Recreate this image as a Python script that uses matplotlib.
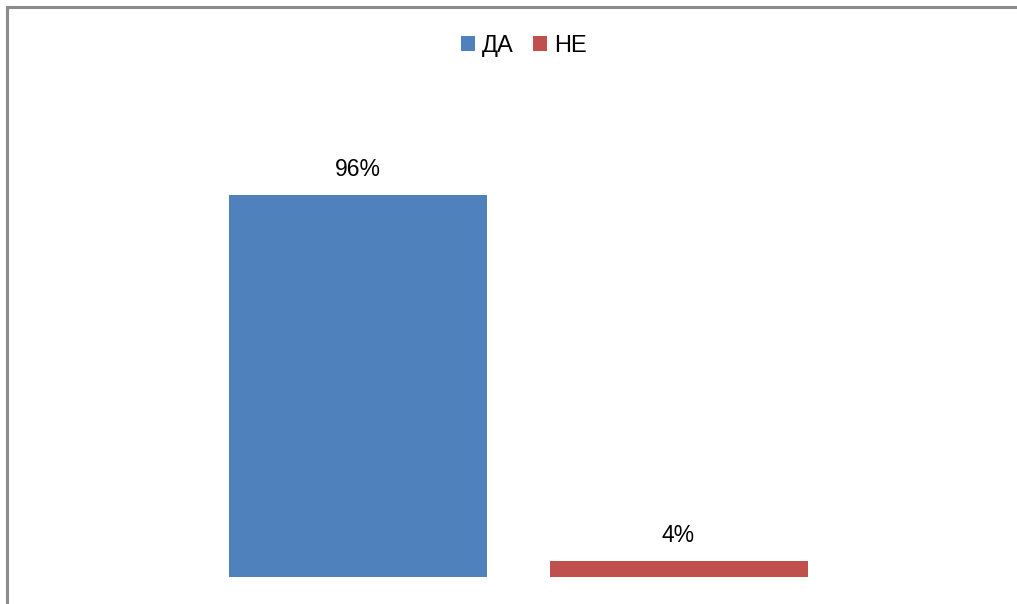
import matplotlib
matplotlib.use("Agg")
import matplotlib.pyplot as plt
from matplotlib.lines import Line2D

# Survey answers
series = ["ДА", "НЕ"]
values = [96, 4]
colors = ["#4F81BD", "#C0504D"]

W, H = 1017, 604
fig = plt.figure(figsize=(W / 100, H / 100), dpi=100)
plt.rcParams["font.family"] = ["Liberation Sans", "DejaVu Sans"]

# plot area in pixel coordinates (from the top-left corner)
left_px, right_px = 100, 936
top_px, bottom_px = 179, 577
ax = fig.add_axes([left_px / W, 1 - bottom_px / H,
                   (right_px - left_px) / W, (bottom_px - top_px) / H])

unit_px = 320.5          # horizontal distance between bar centres
first_center_px = 358
bar_width = 258 / unit_px
ax.set_xlim((left_px - first_center_px) / unit_px,
            (right_px - first_center_px) / unit_px)
ax.set_ylim(0, 100)

positions = list(range(len(values)))
bars = ax.bar(positions, values, width=bar_width, color=colors)

for x, v in zip(positions, values):
    ax.annotate(f"{v}%", xy=(x, v), xytext=(0, 13.5), textcoords="offset points",
                ha="center", va="baseline", fontsize=16.5, color="#000000")

ax.axis("off")

# legend above the plot
handles = [b for b in bars]
leg = fig.legend(handles, series, loc="center",
                 bbox_to_anchor=(524 / W, 1 - 46 / H), ncol=2, frameon=False,
                 fontsize=17, handlelength=0.6, handleheight=0.6,
                 handletextpad=0.3, columnspacing=0.8, borderpad=0)

# chart-area outline (left and top edges)
fig.add_artist(Line2D([6.5 / W, 6.5 / W], [0, 1 - 6.5 / H], transform=fig.transFigure,
                      color="#8c8c8c", lw=2.2, solid_capstyle="projecting"))
fig.add_artist(Line2D([6.5 / W, 1], [1 - 6.5 / H, 1 - 6.5 / H], transform=fig.transFigure,
                      color="#8c8c8c", lw=2.2, solid_capstyle="projecting"))

fig.savefig("out.png", dpi=100)
